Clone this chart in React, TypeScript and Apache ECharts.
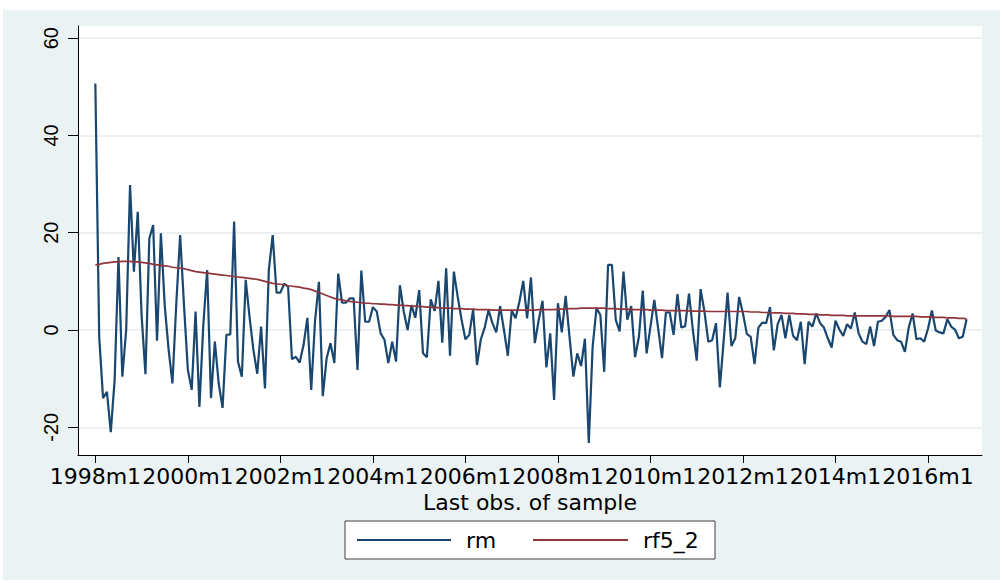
import React, { useEffect, useRef } from "react";
import * as echarts from "echarts";

// Monthly sample: first observation 1998m1
const startYear = 1998;
const startMonth = 1;

// rm (market return), monthly, 1998m1 .. 2016m11
const rm: number[] = [
  50.7, -1.4, -14, -12.7, -21, -10.3, 15, -9.6, 0, 29.8, 12, 24.3,
  3, -9.1, 18.8, 21.6, -2.2, 19.9, 5, -4, -11, 5.5, 19.5, 5,
  -8.2, -12.3, 3.8, -15.8, 1, 12.3, -14, -2.4, -11, -16, -1, -0.9,
  22.3, -6.5, -9.6, 10.3, 2.7, -4.1, -9, 0.7, -12, 12.3, 19.5, 7.7,
  7.7, 9.5, 8.9, -6, -5.5, -6.7, -3.1, 2.5, -12.3, 2, 9.9, -13.6,
  -5.8, -2.7, -6.8, 11.6, 5.6, 5.6, 6.5, 6.5, -8.2, 12.2, 1.7, 1.7,
  4.7, 3.8, -0.7, -2, -6.8, -2.4, -6.5, 9.2, 3.8, 0, 5.1, 2.5,
  8.2, -4.8, -5.6, 6.3, 3.9, 10.1, -2.6, 12.7, -5.3, 12, 6.8, 2.1,
  -1.9, -1, 4.3, -7.2, -1.9, 0.5, 4.1, 1.4, -0.5, 4.9, 0, -5.3,
  4, 2.4, 5.8, 10.1, 2.4, 10.8, -2.7, 2, 6, -7.7, -0.7, -14.4,
  5.5, -0.5, 7, -1.4, -9.6, -4.8, -7.4, -1.8, -23.2, -3.4, 4.5, 3.1,
  -8.6, 13.4, 13.4, 2.1, -0.3, 12, 2.1, 4.9, -5.6, -1.4, 8.1, -4.8,
  0.7, 6.2, 0.3, -5.8, 3.6, 3.6, -1, 7.4, 0.5, 0.8, 7.5, 0,
  -6.3, 8.4, 3.8, -2.4, -2.1, 1.4, -11.8, -2.1, 7.7, -3.3, -1.7, 6.8,
  3.4, -0.8, -1.4, -7, 0.5, 1.5, 1.4, 4.7, -4.2, 1.2, 3.1, -1.7,
  3.1, -1.2, -2.1, 1.7, -7, 1.7, 0.7, 3.4, 1.4, 0.5, -1.7, -3.6,
  1.9, 0.1, -1.2, 1.2, 0.3, 3.6, -0.7, -2.4, -2.9, 0.7, -3.3, 1.7,
  1.9, 2.7, 4.1, -1, -2.1, -2.4, -4.5, 0.5, 3.4, -1.9, -1.7, -2.4,
  0.3, 4, -0.1, -0.5, -0.7, 2.2, 0.7, 0.1, -1.7, -1.4, 2.2,
];

// rf5_2, monthly, 1998m1 .. 2016m11
const rf5_2: number[] = [
  13.4, 13.5, 13.7, 13.8, 13.9, 14.0, 14.0, 14.1, 14.1, 14.1, 14.0, 14.0,
  13.9, 13.8, 13.7, 13.5, 13.4, 13.3, 13.2, 13.1, 12.9, 12.8, 12.7, 12.6,
  12.4, 12.2, 12.0, 11.9, 11.8, 11.7, 11.6, 11.5, 11.4, 11.3, 11.2, 11.1,
  11.0, 10.9, 10.8, 10.7, 10.6, 10.5, 10.4, 10.2, 10.0, 9.8, 9.6, 9.5,
  9.4, 9.3, 9.1, 9.0, 8.9, 8.8, 8.6, 8.5, 8.3, 8.0, 7.7, 7.4,
  7.1, 6.8, 6.5, 6.3, 6.2, 6.0, 5.9, 5.8, 5.7, 5.6, 5.5, 5.5,
  5.4, 5.4, 5.3, 5.3, 5.2, 5.2, 5.1, 5.1, 5.0, 5.0, 4.9, 4.9,
  4.8, 4.8, 4.7, 4.7, 4.6, 4.6, 4.5, 4.5, 4.5, 4.4, 4.4, 4.4,
  4.3, 4.3, 4.3, 4.2, 4.2, 4.2, 4.2, 4.1, 4.1, 4.1, 4.1, 4.1,
  4.1, 4.1, 4.1, 4.1, 4.1, 4.1, 4.1, 4.2, 4.2, 4.2, 4.2, 4.2,
  4.3, 4.3, 4.3, 4.4, 4.4, 4.4, 4.5, 4.5, 4.5, 4.5, 4.5, 4.5,
  4.5, 4.4, 4.4, 4.4, 4.3, 4.3, 4.3, 4.2, 4.2, 4.2, 4.2, 4.2,
  4.1, 4.1, 4.1, 4.1, 4.0, 4.0, 4.0, 4.0, 4.0, 4.0, 3.9, 3.9,
  3.9, 3.9, 3.9, 3.8, 3.8, 3.8, 3.8, 3.8, 3.8, 3.8, 3.8, 3.8,
  3.8, 3.8, 3.7, 3.7, 3.7, 3.6, 3.6, 3.6, 3.5, 3.5, 3.5, 3.4,
  3.4, 3.4, 3.3, 3.3, 3.3, 3.2, 3.2, 3.2, 3.1, 3.1, 3.1, 3.0,
  3.0, 3.0, 3.0, 2.9, 2.9, 2.9, 2.9, 2.9, 2.9, 2.9, 2.9, 2.9,
  2.9, 2.9, 2.9, 2.8, 2.8, 2.8, 2.8, 2.8, 2.8, 2.8, 2.7, 2.7,
  2.7, 2.7, 2.6, 2.6, 2.6, 2.5, 2.5, 2.5, 2.4, 2.4, 2.3,
];

const yTicks: number[] = [-20, 0, 20, 40, 60];
const xTickIdx: number[] = [0, 24, 48, 72, 96, 120, 144, 168, 192, 216];
const xTickLabels: string[] = [
  "1998m1", "2000m1", "2002m1", "2004m1", "2006m1",
  "2008m1", "2010m1", "2012m1", "2014m1", "2016m1",
];
const xTitle = "Last obs. of sample";
const seriesNames: string[] = ["rm", "rf5_2"];

function monthLabel(i: number): string {
  const t = startYear * 12 + (startMonth - 1) + i;
  return `${Math.floor(t / 12)}m${(t % 12) + 1}`;
}

const C_RM = "#1A476F";
const C_RF = "#90353B";
const BG = "#EAF2F3";
const FONT = "'DejaVu Sans', sans-serif";

export default function App() {
  const ref = useRef<HTMLDivElement>(null);
  useEffect(() => {
    if (!ref.current) return;
    const chart = echarts.init(ref.current, undefined, { renderer: "svg" });
    const rmData = rm.map((v, i) => [i, v]);
    const rfData = rf5_2.map((v, i) => [i, v]);
    chart.setOption({
      animation: false,
      backgroundColor: "transparent",
      grid: {
        left: 78,
        right: 22,
        top: 26,
        bottom: 128,
        show: true,
        backgroundColor: "#ffffff",
        borderWidth: 0,
      },
      xAxis: {
        type: "value",
        min: -4.5,
        max: 230,
        name: xTitle,
        nameLocation: "middle",
        nameGap: 33,
        nameTextStyle: { fontFamily: FONT, fontSize: 22, color: "#000" },
        axisLine: { show: true, onZero: false, lineStyle: { color: "#000", width: 1 } },
        axisTick: {
          show: true,
          length: 8,
          customValues: xTickIdx,
          lineStyle: { color: "#000" },
        },
        axisLabel: {
          customValues: xTickIdx,
          margin: 10,
          fontFamily: FONT,
          fontSize: 22,
          color: "#000",
          formatter: (v: number) => {
            const k = xTickIdx.indexOf(Math.round(v));
            return k >= 0 ? xTickLabels[k] : monthLabel(Math.round(v));
          },
        },
        splitLine: { show: false },
      },
      yAxis: {
        type: "value",
        min: -25.7,
        max: 62.5,
        axisLine: { show: true, onZero: false, lineStyle: { color: "#000", width: 1 } },
        axisTick: {
          show: true,
          length: 10,
          customValues: yTicks,
          lineStyle: { color: "#000" },
        },
        axisLabel: {
          customValues: yTicks,
          rotate: 90,
          margin: 17,
          fontFamily: "'Liberation Sans', Arial, sans-serif",
          fontSize: 20,
          color: "#000",
        },
        splitLine: { show: true, lineStyle: { color: "#E4ECEF", width: 1.5 } },
      },
      series: [
        {
          name: seriesNames[0],
          type: "line",
          data: rmData,
          showSymbol: false,
          symbol: "none",
          lineStyle: { color: C_RM, width: 2.2 },
          itemStyle: { color: C_RM },
          z: 2,
        },
        {
          name: seriesNames[1],
          type: "line",
          data: rfData,
          showSymbol: false,
          symbol: "none",
          lineStyle: { color: C_RF, width: 1.7 },
          itemStyle: { color: C_RF },
          z: 3,
        },
      ],
      graphic: [
        {
          type: "rect",
          shape: { x: 345, y: 521, width: 370, height: 38 },
          style: { fill: "#ffffff", stroke: "#404040", lineWidth: 1 },
        },
        {
          type: "line",
          shape: { x1: 357, y1: 540, x2: 451, y2: 540 },
          style: { stroke: C_RM, lineWidth: 2 },
        },
        {
          type: "text",
          x: 466,
          y: 540,
          style: {
            text: seriesNames[0],
            fontFamily: FONT,
            fontSize: 22,
            fill: "#000",
            verticalAlign: "middle",
          },
        },
        {
          type: "line",
          shape: { x1: 533, y1: 540, x2: 628, y2: 540 },
          style: { stroke: C_RF, lineWidth: 2 },
        },
        {
          type: "text",
          x: 643,
          y: 540,
          style: {
            text: seriesNames[1],
            fontFamily: FONT,
            fontSize: 22,
            fill: "#000",
            verticalAlign: "middle",
          },
        },
      ],
    });
    return () => chart.dispose();
  }, []);
  return (
    <div
      style={{
        position: "fixed",
        left: 0,
        top: 0,
        width: 1004,
        height: 583,
        background: "#ffffff",
      }}
    >
      <div
        style={{
          position: "absolute",
          left: 3,
          top: 10,
          width: 997,
          height: 570,
          background: BG,
        }}
      />
      <div
        ref={ref}
        style={{ position: "absolute", left: 0, top: 0, width: 1004, height: 583 }}
      />
    </div>
  );
}
